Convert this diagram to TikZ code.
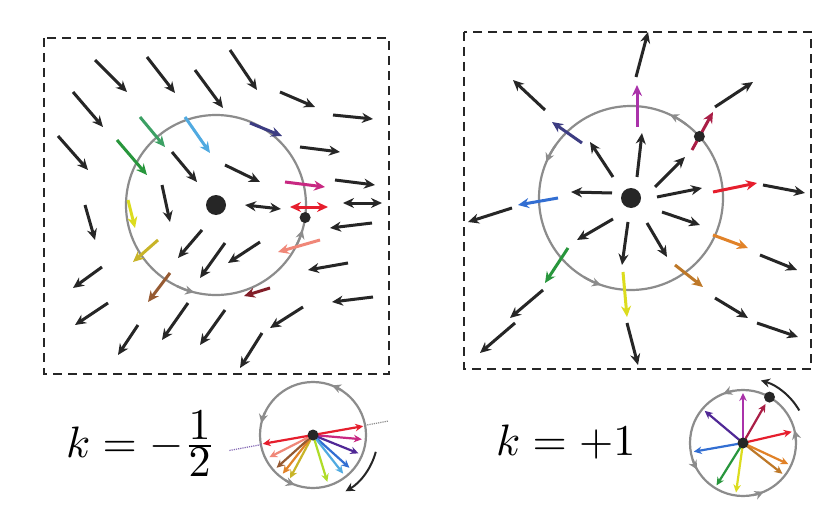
\documentclass[tikz,border=0pt]{standalone}
\usepackage{graphicx}
\usetikzlibrary{arrows.meta,calc}
\definecolor{ink}{RGB}{38,38,38}
\definecolor{ringgray}{RGB}{140,140,140}
\definecolor{cgreen}{RGB}{40,150,60}
\definecolor{cseagreen}{RGB}{60,160,100}
\definecolor{csky}{RGB}{80,170,225}
\definecolor{cnavy}{RGB}{60,60,130}
\definecolor{cmagenta}{RGB}{200,40,130}
\definecolor{cred}{RGB}{230,30,45}
\definecolor{csalmon}{RGB}{240,135,120}
\definecolor{cyellow}{RGB}{220,220,30}
\definecolor{cgold}{RGB}{200,180,40}
\definecolor{cbrown}{RGB}{150,90,50}
\definecolor{cmaroon}{RGB}{130,30,40}
\definecolor{ccrimson}{RGB}{170,30,70}
\definecolor{cblue}{RGB}{50,110,210}
\definecolor{corange}{RGB}{225,130,40}
\definecolor{cbrorange}{RGB}{190,120,40}
\definecolor{cindigo}{RGB}{80,40,150}
\definecolor{clime}{RGB}{175,220,40}
\definecolor{cviolet}{RGB}{170,50,170}
\tikzset{
  vec/.style={draw=ink, line width=3pt, -{Stealth[length=11pt,width=10pt]}},
  dvec/.style={draw=ink, line width=3pt, {Stealth[length=11pt,width=10pt]}-{Stealth[length=11pt,width=10pt]}},
  svec/.style={line width=2.2pt, -{Stealth[length=8pt,width=7.5pt]}},
  ring/.style={draw=ringgray, line width=2.2pt},
  ringtip/.style={draw=ringgray, line width=2.2pt, -{Stealth[length=9pt,width=9pt]}},
  frame/.style={draw=ink, line width=1.4pt, dash pattern=on 9pt off 6pt},
  lab/.style={inner sep=0pt, anchor=base west}
}
\begin{document}
\begin{tikzpicture}[x=1pt,y=-1pt]
\useasboundingbox (0,0) rectangle (827,508);
\fill[white] (0,0) rectangle (827,508);

% ---------- left panel (k = -1/2) ----------
\draw[frame] (44,38) rectangle (389,374);
\coordinate (CL) at (216,205);
\draw[ring] (CL) circle (90);
\draw[ringtip] ($(CL)+(116:90)$) arc[start angle=116, end angle=104, radius=90];
\draw[ringtip] ($(CL)+(28:90)$) arc[start angle=28, end angle=16, radius=90];

\foreach \a/\b/\c/\d in {
  95/60/127/92, 147/57/175/93, 195/70/223/108, 230/50/257/90,
  280/92/315/107, 333/115/373/119, 300/147/340/152, 335/180/375/185,
  225/165/260/182, 73/92/103/127, 58/136/88/170, 172/152/197/182,
  162/185/170/222, 85/205/95/240, 202/230/178/258, 260/242/228/263,
  225/243/200/278, 372/223/330/228, 348/263/308/270, 373/297/332/302,
  303/307/270/328, 262/333/240/368, 225/310/200/345, 188/303/162/340,
  138/325/118/355, 108/303/75/325, 102/267/73/288}
  \draw[vec] (\a,\b) -- (\c,\d);
\draw[dvec] (343,203) -- (382,203);
\draw[dvec] (245,205) -- (281,209);

\foreach \a/\b/\c/\d/\col in {
  117/140/147/175/cgreen, 140/117/165/147/cseagreen, 185/117/210/153/csky,
  250/123/282/136/cnavy, 285/182/325/187/cmagenta, 320/240/278/252/csalmon,
  128/200/135/228/cyellow, 158/240/133/262/cgold, 170/273/148/302/cbrown,
  270/288/244/296/cmaroon}
  \draw[vec, draw=\col] (\a,\b) -- (\c,\d);
\draw[dvec, draw=cred] (290,207) -- (328,207);

\fill[ink] (CL) circle (10);
\fill[ink] ($(CL)+(8:90)$) circle (5.5);

% ---------- right panel (k = +1) ----------
\draw[frame] (464,32) rectangle (811,369);
\coordinate (CR) at (631,198);
\draw[ring] (CR) circle (92);
\draw[ringtip] ($(CR)+(-53:92)$) arc[start angle=-53, end angle=-65, radius=92];
\draw[ringtip] ($(CR)+(-145:92)$) arc[start angle=-145, end angle=-157, radius=92];
\draw[ringtip] ($(CR)+(121:92)$) arc[start angle=121, end angle=109, radius=92];

\foreach \a/\b/\c/\d in {
  545/110/513/80, 613/177/590/142, 636/77/648/32, 637/177/642/133,
  612/193/571/192, 655/187/685/157, 715/107/753/82, 657/197/702/188,
  763/185/805/193, 512/208/468/222, 613/219/577/240, 543/290/510/318,
  515/323/480/353, 628/222/622/265, 627/323/638/365, 647/223/667/257,
  662/212/700/225, 760/255/797/270, 715/298/748/318, 757/323/798/337}
  \draw[vec] (\a,\b) -- (\c,\d);

\foreach \a/\b/\c/\d/\col in {
  582/143/552/122/cnavy, 637/127/637/85/cviolet, 692/150/713/112/ccrimson,
  713/192/757/183/cred, 558/198/518/205/cblue, 568/248/545/283/cgreen,
  623/272/627/317/cyellow, 713/235/748/248/corange, 675/265/703/287/cbrorange}
  \draw[vec, draw=\col] (\a,\b) -- (\c,\d);

\fill[ink] (CR) circle (10);
\fill[ink] ($(CR)+(-42:92)$) circle (5.5);

% ---------- labels ----------
\node[lab] (labL) at (66,457) {\scalebox{4.4}{$k=-\frac{\textstyle 1}{\textstyle 2}$}};
\node[lab] (labR) at (496,455) {\scalebox{4.4}{$k=+1$}};

% ---------- small circle, k = -1/2 ----------
\coordinate (SL) at (313,435);
\draw[ring] (SL) circle (53);
\draw[densely dotted, line width=1.2pt, draw=cindigo!70] ($(SL)+(169.5:53)$) -- ($(SL)+(169.5:85)$);
\draw[densely dotted, line width=1.2pt, draw=ringgray] ($(SL)+(-10.5:53)$) -- ($(SL)+(-10.5:77)$);
\draw[ringtip] ($(SL)+(-57:53)$) arc[start angle=-57, end angle=-69, radius=53];
\draw[ringtip] ($(SL)+(205:53)$) arc[start angle=205, end angle=193, radius=53];
\draw[ringtip] ($(SL)+(122:53)$) arc[start angle=122, end angle=110, radius=53];
\foreach \ang/\col in {5/cmagenta, 22/cindigo, 42/cblue, 52/csky, 73/clime,
  118/cgold, 128/corange, 138/cbrown, 153/csalmon}
  \draw[svec, draw=\col] (SL) -- ++(\ang:49);
\draw[svec, draw=cred, {Stealth[length=8pt,width=7.5pt]}-{Stealth[length=8pt,width=7.5pt]}]
  ($(SL)+(170:51)$) -- ($(SL)+(-10:51)$);
\fill[ink] (SL) circle (5.5);
\draw[line width=2pt, draw=ink, -{Stealth[length=9pt,width=9pt]}]
  ($(SL)+(15:65)$) arc[start angle=15, end angle=60, radius=65];

% ---------- small circle, k = +1 ----------
\coordinate (SR) at (743,443);
\draw[ring] (SR) circle (53);
\draw[ringtip] ($(SR)+(-100:53)$) arc[start angle=-100, end angle=-112, radius=53];
\draw[ringtip] ($(SR)+(162:53)$) arc[start angle=162, end angle=150, radius=53];
\draw[ringtip] ($(SR)+(79:53)$) arc[start angle=79, end angle=67, radius=53];
\draw[ringtip] ($(SR)+(-2:53)$) arc[start angle=-2, end angle=-14, radius=53];
\foreach \ang/\col in {-90/cviolet, -140/cindigo, 170/cblue, 122/cgreen,
  98/cyellow, 38/cbrorange, 25/corange, -13/cred}
  \draw[svec, draw=\col] (SR) -- ++(\ang:50);
\draw[svec, draw=ccrimson] (SR) -- ++(-60:45);
\fill[ink] (SR) circle (5.5);
\fill[ink] ($(SR)+(-60:53)$) circle (5.5);
\draw[line width=2pt, draw=ink, -{Stealth[length=9pt,width=9pt]}]
  ($(SR)+(-30:65)$) arc[start angle=-30, end angle=-74, radius=65];
\end{tikzpicture}
\end{document}
